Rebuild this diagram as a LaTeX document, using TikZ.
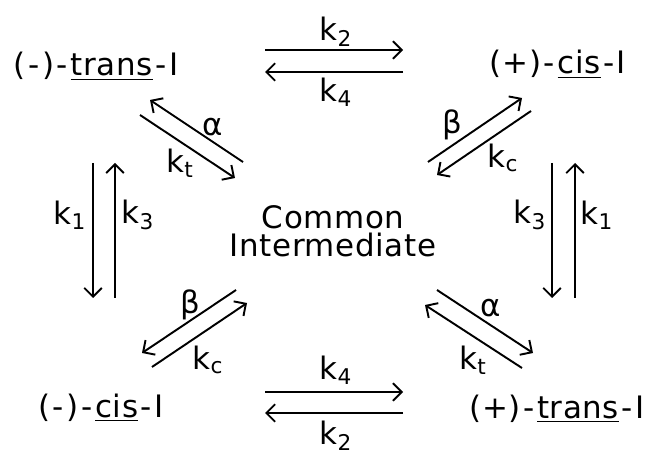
\documentclass[tikz,border=0pt]{standalone}
\usepackage{fontspec}
\setsansfont{DejaVu Sans}[LetterSpace=2]
\usepackage{tikz}
\usetikzlibrary{arrows.meta}
\newcommand{\hy}{\kern1.5pt-\kern1.5pt}

\begin{document}
\begin{tikzpicture}[font=\sffamily\fontsize{17.6}{16}\selectfont,
  rxn/.style={line width=1.1pt, -{Straight Barb[length=5pt,width=10pt]}},
  rate/.style={inner sep=0pt}]
  \useasboundingbox (0,0) rectangle (12.9,9.06);
  % species
  \node[anchor=base] (mtrans) at (1.92,7.54) {(\hy)\hy\underline{trans}\hy I};
  \node[anchor=base] (pcis)   at (11.16,7.58) {(+)\hy\underline{cis}\hy I};
  \node[anchor=base] (mcis)   at (2.02,0.72) {(\hy)\hy\underline{cis}\hy I};
  \node[anchor=base] (ptrans) at (11.14,0.70) {(+)\hy\underline{trans}\hy I};
  \node[align=center] (inter) at (6.66,4.44) {Common\\Intermediate};

  % arrow ends
  \foreach \n/\x/\y in {
      ta/5.30/8.06, tb/8.06/8.06, tc/8.06/7.62, td/5.30/7.62,
      ba/5.30/1.22, bb/8.06/1.22, bc/8.06/0.80, bd/5.30/0.80,
      la/1.86/5.80, lb/1.86/3.10, lc/2.30/3.10, ld/2.30/5.80,
      ra/11.04/5.80, rb/11.04/3.10, rc/11.50/3.10, rd/11.50/5.80,
      tla/4.86/5.82, tlb/3.00/7.06, tlc/2.80/6.76, tld/4.70/5.50,
      tra/8.56/5.82, trb/10.44/7.10, trc/10.62/6.84, trd/8.74/5.56,
      bla/4.72/3.26, blb/2.84/2.00, blc/3.04/1.72, bld/4.94/3.00,
      bra/8.74/3.26, brb/10.66/2.00, brc/10.44/1.70, brd/8.50/2.96}
    \coordinate (\n) at (\x,\y);

  % arrows
  \foreach \p in {t,b,l,r,tl,tr,bl,br} {
    \draw[rxn] (\p a) -- (\p b);
    \draw[rxn] (\p c) -- (\p d);
  }

  % rate constants
  \node[rate] (k2t) at (6.72,8.42) {k\textsubscript{2}};
  \node[rate] (k4t) at (6.72,7.22) {k\textsubscript{4}};
  \node[rate] (k4b) at (6.72,1.66) {k\textsubscript{4}};
  \node[rate, anchor=north] (k2b) at (6.72,0.64) {k\textsubscript{2}};
  \node[rate] (k1l) at (1.40,4.76) {k\textsubscript{1}};
  \node[rate] (k3l) at (2.76,4.76) {k\textsubscript{3}};
  \node[rate] (k3r) at (10.60,4.76) {k\textsubscript{3}};
  \node[rate] (k1r) at (11.94,4.76) {k\textsubscript{1}};
  \node[rate] (atl) at (4.26,6.52) {α};
  \node[rate] (ktl) at (3.60,5.80) {k\textsubscript{t}};
  \node[rate] (btr) at (9.04,6.56) {β};
  \node[rate] (kcr) at (10.06,5.90) {k\textsubscript{c}};
  \node[rate] (bbl) at (3.80,2.96) {β};
  \node[rate] (kcl) at (4.16,1.86) {k\textsubscript{c}};
  \node[rate] (abr) at (9.82,2.90) {α};
  \node[rate] (kbr) at (9.46,1.86) {k\textsubscript{t}};
\end{tikzpicture}
\end{document}
